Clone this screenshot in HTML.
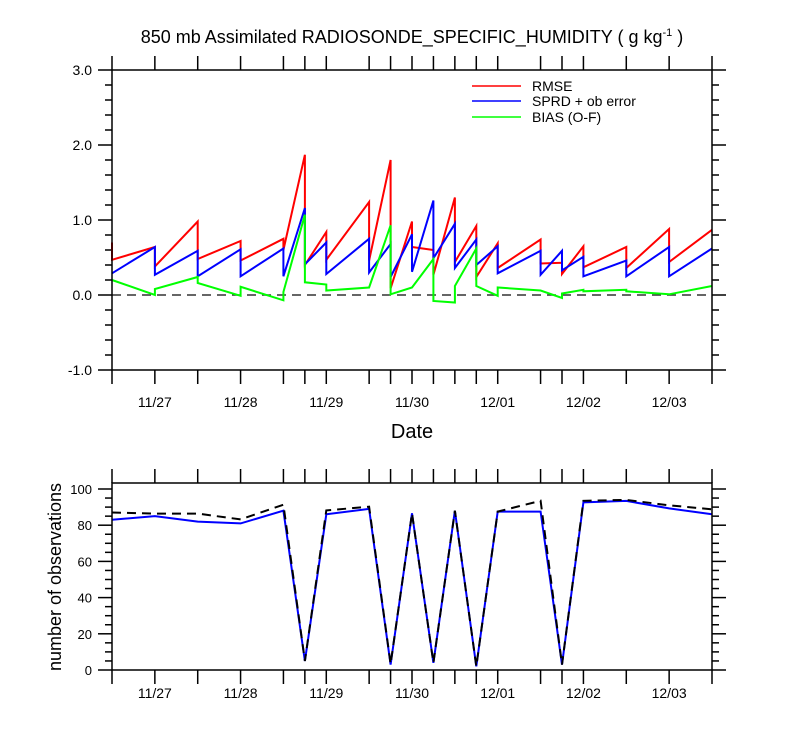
<!DOCTYPE html>
<html><head><meta charset="utf-8"><style>
body{margin:0;background:#fff}
svg text{font-family:"Liberation Sans",Arial,sans-serif;fill:#000}
</style></head><body>
<svg id="c" width="800" height="750" viewBox="0 0 800 750" xmlns="http://www.w3.org/2000/svg"></svg>
<script>
// ---- data (hours since 11/26 12Z) ----
const dateLabels = ["11/27","11/28","11/29","11/30","12/01","12/02","12/03"];
const dateHours = [12,36,60,84,108,132,156];
const obsHours = [0,12,24,36,48,54,60,72,78,84,90,96,102,108,120,126,132,144,156,168];

const rmseH = [0,0,12,12,24,24,36,36,48,48,54,54,60,60,72,72,78,78,84,84,90,90,96,96,102,102,108,108,120,120,126,126,132,132,144,144,156,156,168];
const rmseV = [0.70,0.47,0.64,0.38,0.98,0.48,0.72,0.46,0.75,0.60,1.87,0.40,0.84,0.47,1.24,0.46,1.80,0.09,0.98,0.64,0.60,0.27,1.30,0.44,0.92,0.24,0.69,0.36,0.74,0.42,0.43,0.28,0.65,0.37,0.64,0.36,0.88,0.44,0.87];

const sprdH = [0,12,12,24,24,36,36,48,48,54,54,60,60,72,72,78,78,84,84,90,90,96,96,102,102,108,108,120,120,126,126,132,132,144,144,156,156,168];
const sprdV = [0.29,0.64,0.27,0.59,0.25,0.61,0.25,0.62,0.25,1.16,0.41,0.70,0.28,0.75,0.30,0.68,0.24,0.81,0.31,1.26,0.49,0.95,0.36,0.74,0.40,0.65,0.29,0.59,0.27,0.59,0.33,0.51,0.25,0.46,0.25,0.64,0.25,0.62];

const biasH = [0,12,12,24,24,36,36,48,48,54,54,60,60,72,78,78,84,90,90,96,96,102,102,108,108,120,126,126,132,132,144,144,156,168];
const biasV = [0.20,0.00,0.08,0.24,0.16,-0.01,0.11,-0.07,0.04,1.07,0.17,0.14,0.06,0.10,0.93,0.01,0.10,0.48,-0.08,-0.10,0.12,0.62,0.12,-0.01,0.10,0.06,-0.04,0.02,0.07,0.05,0.07,0.05,0.01,0.12];

const usedV = [83,85,82,81,88,5,86,89,3,86.6,4,88,2,87.5,87.5,3,92.6,93.4,89.3,86];
const totalV = [87,86.4,86.4,83.2,91.3,5,88.2,90.2,3.3,86.6,4,88,2,87.5,93.5,3,93.5,94,91,88.8];

const topTicks = [3.0,2.0,1.0,0.0,-1.0];
const topTickLabels = ["3.0","2.0","1.0","0.0","-1.0"];
const botTicks = [0,20,40,60,80,100];

// ---- geometry ----
const NS="http://www.w3.org/2000/svg", svg=document.getElementById('c');
const X0=112,X1=712;
const xS=h=>X0+(X1-X0)*h/168;
const T={y0:70,y1:370,min:-1,max:3};
const yT=v=>T.y1-(v-T.min)/(T.max-T.min)*(T.y1-T.y0);
const B={y0:483,y1:670};
const yB=v=>B.y1-v*1.81;
function el(tag,attrs,parent){const e=document.createElementNS(NS,tag);for(const k in attrs)e.setAttribute(k,attrs[k]);(parent||svg).appendChild(e);return e;}
function line(x1,y1,x2,y2,p,w){return el('line',{x1,y1,x2,y2,stroke:'#000','stroke-width':w||1.5},p);}
function txt(s,x,y,size,anchor,p){const t=el('text',{x,y,'font-size':size,'text-anchor':anchor||'middle'},p);t.textContent=s;return t;}

// title
const title=el('text',{x:412,y:43,'font-size':18,'text-anchor':'middle'});


title.innerHTML='850 mb Assimilated RADIOSONDE_SPECIFIC_HUMIDITY ( g kg<tspan dy="-7" font-size="11">-1</tspan><tspan dy="7"> )</tspan>';

function xAxis(p,yTop,yBot,labY){
  obsHours.forEach(h=>{const x=xS(h);line(x,yTop-14,x,yTop,p);line(x,yBot,x,yBot+14,p);});
  dateHours.forEach((h,i)=>{const t=txt(dateLabels[i],xS(h),labY,14,'middle',p);
    
    });
}
function poly(p,H,V,ys,color,name,dash){
  const pts=H.map((h,i)=>xS(h).toFixed(1)+','+ys(V[i]).toFixed(1)).join(' ');
  const pl=el('polyline',{points:pts,fill:'none',stroke:color,'stroke-width':2,'stroke-linejoin':'miter'},p);
  if(dash)pl.setAttribute('stroke-dasharray',dash);
  
  
}

// ---- top panel ----
const gT=el('g',{});


for(let v=-1;v<=3.001;v+=0.2){const y=yT(v);const major=Math.abs(v-Math.round(v))<1e-6;
  line(major?98:105,y,X0,y,gT);line(X1,y,major?726:719,y,gT);}
topTicks.forEach((v,i)=>{const t=txt(topTickLabels[i],92,yT(v)+5,14,'end',gT);
  
  });
xAxis(gT,T.y0,T.y1,407);
const zl=el('line',{x1:X0,x2:X1,y1:yT(0),y2:yT(0),stroke:'#333','stroke-width':1.5,'stroke-dasharray':'9,6'},gT);


poly(gT,rmseH,rmseV,yT,'#ff0000','rmse-line');
poly(gT,sprdH,sprdV,yT,'#0000ff','sprd-line');
poly(gT,biasH,biasV,yT,'#00ff00','bias-line');
el('rect',{x:X0,y:T.y0,width:X1-X0,height:T.y1-T.y0,fill:'none',stroke:'#000','stroke-width':1.5},gT);
const xt=txt('Date',412,438,20,'middle',gT);



// legend
const leg=el('g',{});


[['RMSE','#ff0000',86],['SPRD + ob error','#0000ff',101],['BIAS (O-F)','#00ff00',117]].forEach(([s,c,y])=>{
  const g=el('g',{},leg);
  
  
  el('line',{x1:472,x2:521,y1:y,y2:y,stroke:c,'stroke-width':1.5},g);
  txt(s,532,y+5,14,'start',g);
});

// ---- bottom panel ----
const gB=el('g',{});


for(let v=0;v<=100;v+=5){const y=yB(v);const major=v%20===0;
  line(major?98:105,y,X0,y,gB);line(X1,y,major?726:719,y,gB);}
botTicks.forEach(v=>{const t=txt(String(v),92,yB(v)+5,13,'end',gB);
  
  });
xAxis(gB,B.y0,B.y1,698);
poly(gB,obsHours,usedV,yB,'#0000ff','obs-used-line');
poly(gB,obsHours,totalV,yB,'#000','obs-total-line','9,6');
el('rect',{x:X0,y:B.y0,width:X1-X0,height:B.y1-B.y0,fill:'none',stroke:'#000','stroke-width':1.5},gB);
const yt=el('text',{x:0,y:0,'font-size':18,'text-anchor':'middle',transform:'translate(61,577) rotate(-90)'},gB);
yt.textContent='number of observations';


</script>
</body></html>
